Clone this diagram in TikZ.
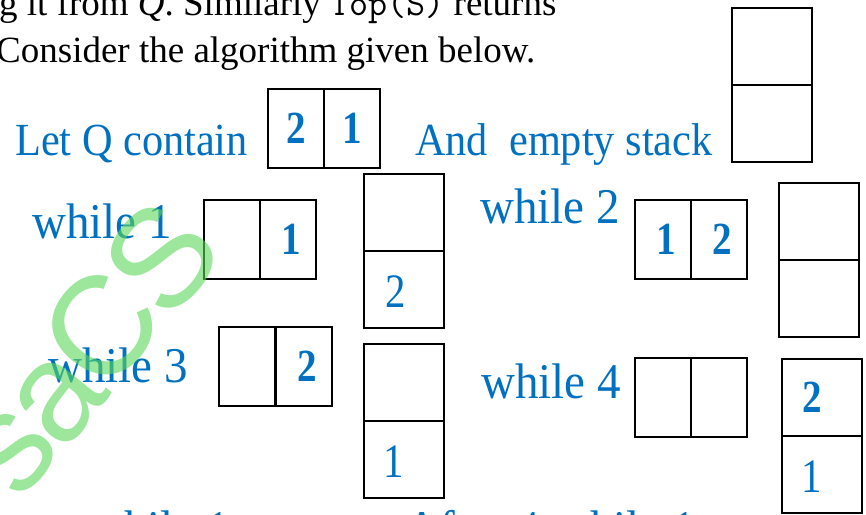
\documentclass[tikz,border=0pt]{standalone}
\usepackage{fontspec}
\setmainfont{Liberation Serif}
\newfontfamily\condfont[FakeStretch=0.92]{Liberation Serif}
\newfontfamily\whfont[FakeStretch=0.94]{Liberation Serif}
\newfontfamily\digfont[FakeStretch=0.85]{Liberation Serif}
\newfontfamily\wmfont{Liberation Sans}
\definecolor{qblue}{RGB}{0,112,192}
\definecolor{wmgreen}{RGB}{90,215,90}
\tikzset{
  lbl/.style={text=qblue, font=\condfont\fontsize{46}{46}\selectfont, inner sep=0pt, anchor=base west},
  whl/.style={text=qblue, font=\whfont\fontsize{50}{50}\selectfont, inner sep=0pt, anchor=base west},
  blk/.style={text=black, font=\fontsize{37}{37}\selectfont, inner sep=0pt, anchor=base west},
  qcell/.style={draw, line width=2.2pt, minimum width=56pt, minimum height=79pt, inner sep=0pt, anchor=north west},
  scell/.style={draw, line width=2.2pt, minimum width=80pt, minimum height=77pt, inner sep=0pt, anchor=north west},
  bdig/.style={text=qblue, font=\digfont\fontsize{46}{46}\bfseries\selectfont, inner sep=0pt},
  rdig/.style={text=qblue, font=\digfont\fontsize{48}{48}\selectfont, inner sep=0pt},
  wmark/.style={text=wmgreen, opacity=0.6, font=\wmfont\fontsize{140}{140}\selectfont, rotate=51, inner sep=0pt},
}
\begin{document}
\begin{tikzpicture}[x=1pt,y=-1pt]
\useasboundingbox (0,0) rectangle (866,514);
% header text
\node[blk] (t1) at (-1,15) {g it from \textit{Q}. Similarly {\ttfamily Top(S)} returns};
\node[blk] (t2) at (-4,62) {Consider the algorithm given below.};
% initial state
\node[lbl] (letq) at (15,155) {Let Q contain};
\node[qcell] (q0a) at (267,88) {};
\node[qcell] (q0b) at (323,88) {};
\node[bdig] (q0ad) at (q0a.center) {2};
\node[bdig] (q0bd) at (q0b.center) {1};
\node[lbl] (ands) at (415,155) {And\ \ empty stack};
\node[scell] (s0a) at (731,7) {};
\node[scell] (s0b) at (731,84) {};
% while 1
\node[whl] (w1) at (32,238) {while 1};
\node[qcell] (q1a) at (203,199) {};
\node[qcell] (q1b) at (259,199) {};
\node[bdig] (q1bd) at ([xshift=3pt]q1b.center) {1};
\node[scell] (s1a) at (363,173) {};
\node[scell] (s1b) at (363,250) {};
\node[rdig] (s1bd) at ([xshift=-8pt,yshift=-2pt]s1b.center) {2};
% while 2
\node[whl] (w2) at (480,223) {while 2};
\node[qcell] (q2a) at (634,199) {};
\node[qcell] (q2b) at (690,199) {};
\node[bdig] (q2ad) at ([xshift=3pt]q2a.center) {1};
\node[bdig] (q2bd) at ([xshift=3pt]q2b.center) {2};
\node[scell] (s2a) at (778,182) {};
\node[scell] (s2b) at (778,259) {};
% while 3
\node[whl] (w3) at (48,382) {while 3};
\node[qcell] (q3a) at (218,326) {};
\node[qcell] (q3b) at (275,326) {};
\node[bdig] (q3bd) at ([xshift=3pt]q3b.center) {2};
\node[scell] (s3a) at (363,343) {};
\node[scell] (s3b) at (363,420) {};
\node[rdig] (s3bd) at ([xshift=-10pt,yshift=-2pt]s3b.center) {1};
% while 4
\node[whl] (w4) at (481,398) {while 4};
\node[qcell] (q4a) at (634,357) {};
\node[qcell] (q4b) at (690,357) {};
\node[scell] (s4a) at (781,358) {};
\node[scell] (s4b) at (781,435) {};
\node[bdig] (s4ad) at ([xshift=-10pt]s4a.center) {2};
\node[rdig] (s4bd) at ([xshift=-10pt,yshift=-2pt]s4b.center) {1};
% cut-off line at the bottom
\node[whl] (bw1) at (90,545) {while 1};
\node[whl] (baf) at (405,545) {After 4};
\node[whl] (bw2) at (556,545) {while 1};
% watermark
\node[wmark] (wm1) at (14,452) {s};
\node[wmark] (wm2) at (59,400) {a};
\node[wmark] (wm3) at (101,328) {C};
\node[wmark] (wm4) at (161,258) {S};
\end{tikzpicture}
\end{document}
